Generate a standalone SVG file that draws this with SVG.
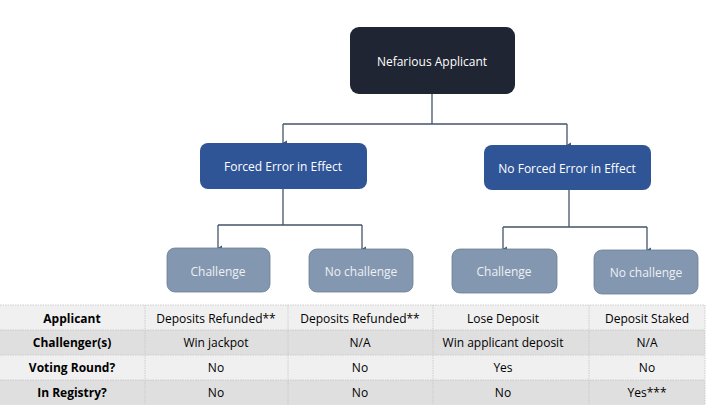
<svg xmlns="http://www.w3.org/2000/svg" width="720" height="405" viewBox="0 0 720 405">
<defs>
<style>
.t{font-family:"Open Sans","Liberation Sans",sans-serif;font-size:12px;text-anchor:middle;dominant-baseline:central}
.w{fill:#ffffff}
.lw{fill:#eef0f4}
.k{fill:#000000}
.b{font-weight:bold}
.c{fill:none;stroke:#44546a;stroke-width:1.3}
.cell{stroke:#c4c4c4;stroke-width:0.8;stroke-dasharray:1.5 1}
.r1{fill:#f0f0f0}
.r2{fill:#dfdfdf}
</style>
<marker id="ah" viewBox="0 0 6 6" refX="3" refY="5" markerWidth="6" markerHeight="6" orient="auto-start-reverse" markerUnits="userSpaceOnUse">
<path d="M0.5,1 L3,5.5 L5.5,1 Z" fill="#44546a"/>
</marker>
</defs>
<rect width="720" height="405" fill="#ffffff"/>

<g id="connectors">
<path class="c" d="M432,94 V124 M283,124 H567"/>
<path class="c" d="M283,124 V143" marker-end="url(#ah)"/>
<path class="c" d="M567,124 V145" marker-end="url(#ah)"/>
<path class="c" d="M283,189 V225 M218,225 H362"/>
<path class="c" d="M218,225 V248" marker-end="url(#ah)"/>
<path class="c" d="M362,225 V249" marker-end="url(#ah)"/>
<path class="c" d="M569,190 V227 M503,227 H647"/>
<path class="c" d="M503,227 V249" marker-end="url(#ah)"/>
<path class="c" d="M647,227 V250" marker-end="url(#ah)"/>
</g>

<g id="n-nefarious">
<rect x="350" y="27" width="165" height="67" rx="9" fill="#1f2532"/>
<text class="t w" x="432" y="61">Nefarious Applicant</text>
</g>
<g id="n-forced">
<rect x="200" y="143" width="167" height="46" rx="8" fill="#2f5597"/>
<text class="t w" x="283" y="166">Forced Error in Effect</text>
</g>
<g id="n-noforced">
<rect x="484" y="145" width="167" height="45" rx="8" fill="#2f5597"/>
<text class="t w" x="567" y="168">No Forced Error in Effect</text>
</g>
<g id="n-challenge1">
<rect x="167" y="248" width="103" height="44" rx="8" fill="#8497b0" stroke="#6a7d96" stroke-width="0.8"/>
<text class="t lw" x="218" y="271">Challenge</text>
</g>
<g id="n-nochallenge1">
<rect x="309" y="249" width="104" height="43" rx="8" fill="#8497b0" stroke="#6a7d96" stroke-width="0.8"/>
<text class="t lw" x="361" y="271">No challenge</text>
</g>
<g id="n-challenge2">
<rect x="452" y="249" width="105" height="44" rx="8" fill="#8497b0" stroke="#6a7d96" stroke-width="0.8"/>
<text class="t lw" x="504" y="271">Challenge</text>
</g>
<g id="n-nochallenge2">
<rect x="594" y="250" width="104" height="44" rx="8" fill="#8497b0" stroke="#6a7d96" stroke-width="0.8"/>
<text class="t lw" x="646" y="272">No challenge</text>
</g>

<g id="table">
<rect class="r1" x="0" y="305" width="705" height="25"/>
<rect class="r2" x="0" y="330" width="705" height="25"/>
<rect class="r1" x="0" y="355" width="705" height="25"/>
<rect class="r2" x="0" y="380" width="705" height="25"/>
<path class="cell" d="M0,305 H705 M0,330 H705 M0,355 H705 M0,380 H705 M145,305 V405 M288,305 V405 M433,305 V405 M589,305 V405 M705,305 V405"/>
<text class="t k b" x="72" y="318">Applicant</text>
<text class="t k b" x="72" y="342">Challenger(s)</text>
<text class="t k b" x="72" y="367">Voting Round?</text>
<text class="t k b" x="72" y="392">In Registry?</text>
<text class="t k" x="216" y="318">Deposits Refunded**</text>
<text class="t k" x="216" y="342">Win jackpot</text>
<text class="t k" x="216" y="367">No</text>
<text class="t k" x="216" y="392">No</text>
<text class="t k" x="360" y="318">Deposits Refunded**</text>
<text class="t k" x="360" y="342">N/A</text>
<text class="t k" x="360" y="367">No</text>
<text class="t k" x="360" y="392">No</text>
<text class="t k" x="503" y="318">Lose Deposit</text>
<text class="t k" x="503" y="342">Win applicant deposit</text>
<text class="t k" x="503" y="367">Yes</text>
<text class="t k" x="503" y="392">No</text>
<text class="t k" x="647" y="318">Deposit Staked</text>
<text class="t k" x="647" y="342">N/A</text>
<text class="t k" x="647" y="367">No</text>
<text class="t k" x="647" y="392">Yes***</text>
</g>
</svg>
